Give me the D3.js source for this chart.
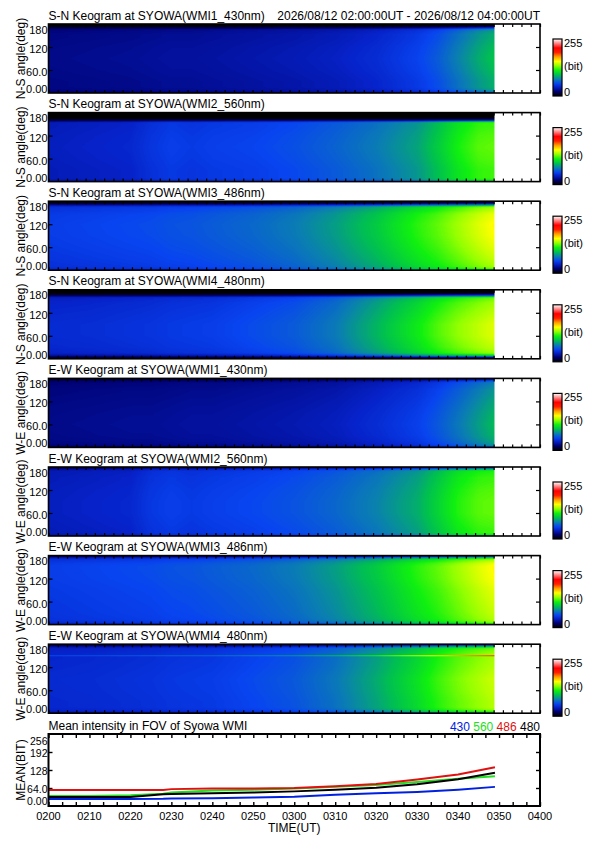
<!DOCTYPE html>
<html><head><meta charset="utf-8">
<script src="https://cdn.jsdelivr.net/npm/d3@7"></script>
<style>
body{margin:0;background:#fff}
text{font-family:"Liberation Sans",Arial,Helvetica,sans-serif;fill:#000}
</style>
</head><body>
<svg id="chart" width="595" height="842" xmlns="http://www.w3.org/2000/svg"></svg>
<script>
// ---------------- DATA ----------------
const headerRange = "2026/08/12 02:00:00UT - 2026/08/12 04:00:00UT";
const timeTickLabels = ["0200","0210","0220","0230","0240","0250","0300","0310","0320","0330","0340","0350","0400"];
const angleTickLabels = ["0.00","60.0","120","180"];
const angleTickValues = [0,60,120,180];
const meanTickLabels = ["0.00","64.0","128","192","256"];
const meanTickValues = [0,64,128,192,256];
const colorbarLabels = ["255","(bit)","0"];

// keogram sample times (minutes after 02:00 UT) and sample angles (deg)
const keoTimes  = [0,10,20,25,30,35,40,50,60,70,80,90,95,100,105,109];
const keoAngles = [0,3,8,15,30,60,90,120,145,148,150,152,155,160,165,170,175,180];

// centre intensity (bit) vs time, per keogram
const snWmi1Time = [24,25,26,27,28,28,29,31,33,36,41,50,58,70,82,90];
const snWmi2Time = [36,38,40,46,50,48,50,52,56,62,70,82,95,110,120,122];
const snWmi3Time = [48,50,52,53,55,56,58,62,68,78,92,110,118,128,138,145];
const snWmi4Time = [42,43,45,46,48,49,50,55,60,70,88,108,120,130,138,144];
const ewWmi1Time = [24,25,26,26,27,28,28,30,32,35,41,49,57,67,78,87];
const ewWmi2Time = [36,38,40,47,50,48,50,53,57,63,72,85,98,112,120,122];
const ewWmi3Time = [48,50,52,53,55,56,58,62,68,78,92,110,118,128,138,145];
const ewWmi4Time = [42,43,45,46,48,49,50,55,60,70,86,106,118,128,136,142];

// relative intensity vs angle, per keogram
const snWmi1Ang = [.55,.8,.95,1,1,1.05,1.08,1.05,1,1,1,1,.98,.95,.9,.5,.05,0];
const snWmi2Ang = [.7,.9,1,1,1,1.03,1.05,1.03,1,1,1,1,.95,.3,.02,0,0,0];
const snWmi3Ang = [.7,.85,.95,.97,1,1.04,1.07,1.08,1.05,1.04,1.03,1.02,1,.98,.95,.6,.1,0];
const snWmi4Ang = [0,.1,.7,.95,1,1.04,1.04,1,.96,.95,.94,.93,.92,.88,.4,.05,0,0];
const ewWmi1Ang = [.4,.85,.95,1,1.05,1.08,1.05,1,.95,.95,.94,.94,.92,.9,.88,.85,.6,.1];
const ewWmi2Ang = [.5,.9,1,1,1.02,1.05,1.05,1.03,1,1,1,1,.99,.98,.97,.95,.7,.1];
const ewWmi3Ang = [.6,.85,.95,.98,1,1.02,1.04,1.07,1.08,1.08,1.08,1.08,1.07,1.05,1,.95,.7,.1];
const ewWmi4Ang = [.4,.8,.95,1,1,1.02,1.03,1,.98,.98,1.35,.98,.97,.95,.93,.9,.6,.05];

const keoTitles = [
  "S-N Keogram at SYOWA(WMI1_430nm)","S-N Keogram at SYOWA(WMI2_560nm)",
  "S-N Keogram at SYOWA(WMI3_486nm)","S-N Keogram at SYOWA(WMI4_480nm)",
  "E-W Keogram at SYOWA(WMI1_430nm)","E-W Keogram at SYOWA(WMI2_560nm)",
  "E-W Keogram at SYOWA(WMI3_486nm)","E-W Keogram at SYOWA(WMI4_480nm)"];
const keoYLabels = ["N-S angle(deg)","N-S angle(deg)","N-S angle(deg)","N-S angle(deg)",
  "W-E angle(deg)","W-E angle(deg)","W-E angle(deg)","W-E angle(deg)"];

// colour table (bit value -> colour)
const cmapStops  = [0,20,40,55,75,95,115,135,155,175,195,215,235,255];
const cmapColors = ["#000000","#000070","#0622c8","#0844f0","#0a80b0","#00c050","#10f010",
                    "#90ff00","#ffff00","#ffa000","#ff2000","#ff0000","#ff8080","#ffffff"];

// mean intensity in FOV
const meanTitle = "Mean intensity in FOV of Syowa WMI";
const meanTimes = [0,10,20,28,30,40,50,60,70,80,90,100,109];
const mean430 = [25,25,25,26,27,28,30,33,40,45,50,58,68];
const mean560 = [36,36,38,44,48,55,58,62,68,75,85,97,106];
const mean486 = [57,57,57,57,60,62,62,64,70,78,94,112,138];
const mean480 = [32,32,32,42,43,45,48,52,58,65,77,95,118];
const meanNames = ["430","560","486","480"];
const meanColors = ["#0020e0","#20e020","#e01010","#000000"];

// ---------------- LAYOUT ----------------
const svg = d3.select("#chart");
svg.append("rect").attr("width",595).attr("height",842).attr("fill","#fff");
const X0 = 48.5, X1 = 540;
const x = d3.scaleLinear().domain([0,120]).range([X0,X1]);
const panelTop0 = 24, panelStep = 88.6, panelH = 69;

const cmap = d3.scaleLinear().domain(cmapStops).range(cmapColors).clamp(true);
const lut = d3.range(256).map(v => d3.rgb(cmap(v)));

const keoData = [
  [snWmi1Time,snWmi1Ang],[snWmi2Time,snWmi2Ang],[snWmi3Time,snWmi3Ang],[snWmi4Time,snWmi4Ang],
  [ewWmi1Time,ewWmi1Ang],[ewWmi2Time,ewWmi2Ang],[ewWmi3Time,ewWmi3Ang],[ewWmi4Time,ewWmi4Ang]];

const defs = svg.append("defs");
const grad = defs.append("linearGradient").attr("id","cbar").attr("x1",0).attr("y1",1).attr("x2",0).attr("y2",0);
cmapStops.forEach((s,i)=>grad.append("stop").attr("offset",s/255).attr("stop-color",cmapColors[i]));

const xMinor = d3.range(0,120.001,120/53);

keoData.forEach((d,k)=>{
  const top = panelTop0 + k*panelStep, bot = top + panelH;
  const y = d3.scaleLinear().domain([0,180]).range([bot,top]);
  const tS = d3.scaleLinear().domain(keoTimes).range(d[0]).clamp(true);
  const aS = d3.scaleLinear().domain(keoAngles).range(d[1]).clamp(true);
  const tEnd = keoTimes[keoTimes.length-1];
  const W = Math.round(x(tEnd)-x(0)), H = panelH;
  const cv = document.createElement("canvas"); cv.width=W; cv.height=H;
  const ctx = cv.getContext("2d"); const img = ctx.createImageData(W,H);
  for(let py=0;py<H;py++){
    const a = y.invert(top+py+0.5), fa = aS(a);
    for(let px=0;px<W;px++){
      const t = x.invert(X0+px+0.5);
      const v = Math.max(0,Math.min(255,Math.round(tS(t)*fa)));
      const c = lut[v], o=(py*W+px)*4;
      img.data[o]=c.r; img.data[o+1]=c.g; img.data[o+2]=c.b; img.data[o+3]=255;
    }
  }
  ctx.putImageData(img,0,0);
  svg.append("image").attr("x",x(0)).attr("y",top).attr("width",W).attr("height",H)
     .attr("preserveAspectRatio","none").attr("href",cv.toDataURL());

  const g = svg.append("g");
  g.append("g").attr("transform",`translate(0,${bot})`)
   .call(d3.axisBottom(x).tickValues(xMinor).tickSize(-3).tickFormat("")).call(s=>s.select(".domain").remove());
  g.append("g").attr("transform",`translate(0,${top})`)
   .call(d3.axisTop(x).tickValues(xMinor).tickSize(-3).tickFormat("")).call(s=>s.select(".domain").remove());
  g.append("g").attr("transform",`translate(${X0},0)`)
   .call(d3.axisLeft(y).tickValues([60,120]).tickSize(-4).tickFormat("")).call(s=>s.select(".domain").remove());
  g.append("g").attr("transform",`translate(${X1},0)`)
   .call(d3.axisRight(y).tickValues([60,120]).tickSize(-4).tickFormat("")).call(s=>s.select(".domain").remove());
  g.selectAll(".tick line").attr("stroke","#000").attr("stroke-width",1.2);
  g.append("rect").attr("x",X0).attr("y",top).attr("width",X1-X0).attr("height",panelH)
   .attr("fill","none").attr("stroke","#000").attr("stroke-width",1.6);

  svg.append("text").attr("x",X0).attr("y",top-4.5).attr("font-size",12).text(keoTitles[k]);
  if(k===0) svg.append("text").attr("x",X1).attr("y",top-4.5).attr("font-size",12)
      .attr("text-anchor","end").text(headerRange);
  angleTickValues.forEach((v,i)=>{
    let yy = y(v)+6;
    if(v===180) yy = top+9.5;
    if(v===0) yy = bot;
    svg.append("text").attr("x",X0-1).attr("y",yy).attr("font-size",11)
       .attr("text-anchor","end").text(angleTickLabels[i]);
  });
  svg.append("text").attr("transform",`translate(25,${(top+bot)/2}) rotate(-90)`)
     .attr("font-size",12).attr("text-anchor","middle").text(keoYLabels[k]);

  const cbT = top+15, cbH = 57;
  svg.append("rect").attr("x",553).attr("y",cbT).attr("width",9).attr("height",cbH)
     .attr("fill","url(#cbar)").attr("stroke","#000").attr("stroke-width",1.2);
  svg.append("text").attr("x",564).attr("y",cbT+8).attr("font-size",11).text(colorbarLabels[0]);
  svg.append("text").attr("x",564).attr("y",cbT+31).attr("font-size",11).text(colorbarLabels[1]);
  svg.append("text").attr("x",564).attr("y",cbT+cbH).attr("font-size",11).text(colorbarLabels[2]);
});

// ---------------- MEAN PANEL ----------------
const mTop = 734, mBot = 806;
const ym = d3.scaleLinear().domain([0,256]).range([mBot,mTop]);
const mg = svg.append("g");
const xMeanTicks = d3.range(0,120.001,10/3);
mg.append("g").attr("transform",`translate(0,${mBot})`)
  .call(d3.axisBottom(x).tickValues(xMeanTicks).tickSize(-4).tickFormat("")).call(s=>s.select(".domain").remove());
mg.append("g").attr("transform",`translate(0,${mTop})`)
  .call(d3.axisTop(x).tickValues(xMeanTicks).tickSize(-4).tickFormat("")).call(s=>s.select(".domain").remove());
mg.append("g").attr("transform",`translate(${X0},0)`)
  .call(d3.axisLeft(ym).tickValues([64,128,192]).tickSize(-4).tickFormat("")).call(s=>s.select(".domain").remove());
mg.append("g").attr("transform",`translate(${X1},0)`)
  .call(d3.axisRight(ym).tickValues([64,128,192]).tickSize(-4).tickFormat("")).call(s=>s.select(".domain").remove());
mg.selectAll(".tick line").attr("stroke","#000").attr("stroke-width",1.4);

const line = d3.line().x((v,i)=>x(meanTimes[i])).y(v=>ym(v));
[mean430,mean560,mean486,mean480].forEach((s,i)=>{
  svg.append("path").attr("d",line(s)).attr("fill","none")
     .attr("stroke",meanColors[i]).attr("stroke-width",2);
});
svg.append("rect").attr("x",X0).attr("y",mTop).attr("width",X1-X0).attr("height",mBot-mTop)
   .attr("fill","none").attr("stroke","#000").attr("stroke-width",2);

svg.append("text").attr("x",X0).attr("y",mTop-4).attr("font-size",12).text(meanTitle);
const leg = svg.append("text").attr("x",X1).attr("y",mTop-3.5).attr("font-size",12).attr("text-anchor","end");
meanNames.forEach((n,i)=>leg.append("tspan").attr("fill",meanColors[i]).text((i?" ":"")+n));

meanTickValues.forEach((v,i)=>{
  let yy = ym(v)+4.5;
  if(v===256) yy = mTop+10.5;
  if(v===0) yy = mBot-1.5;
  svg.append("text").attr("x",X0-1).attr("y",yy).attr("font-size",10.5)
     .attr("text-anchor","end").text(meanTickLabels[i]);
});
svg.append("text").attr("transform",`translate(25,${(mTop+mBot)/2}) rotate(-90)`)
   .attr("font-size",12).attr("text-anchor","middle").text("MEAN(BIT)");

timeTickLabels.forEach((l,i)=>{
  svg.append("text").attr("x",x(i*10)).attr("y",820).attr("font-size",11)
     .attr("text-anchor","middle").text(l);
});
svg.append("text").attr("x",(X0+X1)/2).attr("y",832).attr("font-size",12)
   .attr("text-anchor","middle").text("TIME(UT)");
</script>
</body></html>
